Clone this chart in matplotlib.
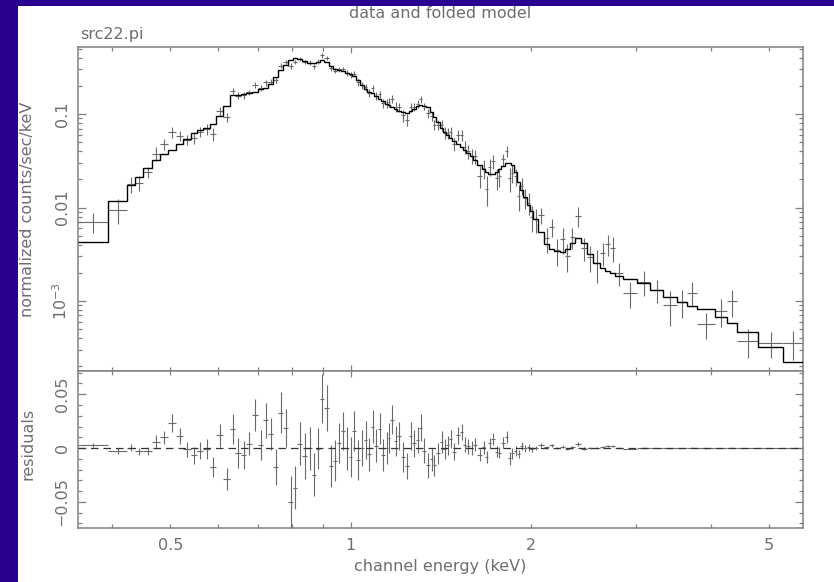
import numpy as np
import matplotlib
matplotlib.use("Agg")
import matplotlib.pyplot as plt
from matplotlib.patches import Rectangle
from matplotlib.ticker import (FixedLocator, NullFormatter, LogLocator,
                               MultipleLocator, FuncFormatter)

# ---------------- data ----------------
# channel (bin) edges in keV
edges = [0.3508, 0.3937, 0.4236, 0.4368, 0.4505, 0.4663, 0.4809, 0.4959, 0.5114, 0.5253,
         0.5418, 0.5544, 0.5673, 0.5828, 0.5964, 0.6127, 0.6294, 0.6416, 0.6565, 0.6693,
         0.6849, 0.7009, 0.7145, 0.7283, 0.7425, 0.7569, 0.7715, 0.7865, 0.8018, 0.8142,
         0.8300, 0.8461, 0.8625, 0.8759, 0.8895, 0.9033, 0.9208, 0.9350, 0.9495, 0.9641,
         0.9791, 0.9943, 1.0058, 1.0214, 1.0372, 1.0533, 1.0655, 1.0819, 1.0946, 1.1115,
         1.1243, 1.1417, 1.1551, 1.1640, 1.1819, 1.1956, 1.2142, 1.2330, 1.2521, 1.2666,
         1.2862, 1.3011, 1.3162, 1.3366, 1.3573, 1.3730, 1.3889, 1.4105, 1.4268, 1.4434,
         1.4601, 1.4771, 1.5000, 1.5232, 1.5409, 1.5587, 1.5830, 1.6014, 1.6262, 1.6577,
         1.6769, 1.6963, 1.7160, 1.7426, 1.7627, 1.7831, 1.8108, 1.8318, 1.8530, 1.8745,
         1.8963, 1.9183, 1.9405, 1.9706, 1.9935, 2.0166, 2.0557, 2.1037, 2.1445, 2.1861,
         2.2370, 2.2804, 2.3246, 2.3697, 2.4250, 2.4815, 2.5400, 2.6093, 2.6598, 2.7114,
         2.7641, 2.8505, 3.0079, 3.1623, 3.3243, 3.5085, 3.6460, 3.7888, 4.0602, 4.2517,
         4.4182, 4.7894, 5.2728, 5.6929]

# folded model, counts/sec/keV
model = [0.00428, 0.01182, 0.01740, 0.02120, 0.02645, 0.03221, 0.03735, 0.04121, 0.04776, 0.05402,
         0.06262, 0.06744, 0.07085, 0.07816, 0.09519, 0.1218, 0.1597, 0.1617, 0.1657, 0.1677,
         0.1719, 0.1851, 0.1920, 0.2094, 0.2487, 0.2955, 0.3384, 0.3781, 0.3972, 0.3875,
         0.3688, 0.3554, 0.3511, 0.3645, 0.3781, 0.3598, 0.3262, 0.3029, 0.2955, 0.2883,
         0.2779, 0.2711, 0.2549, 0.2310, 0.2043, 0.1851, 0.1740, 0.1677, 0.1558, 0.1447,
         0.1377, 0.1295, 0.1248, 0.1188, 0.1131, 0.1077, 0.1050, 0.1037, 0.1077, 0.1145,
         0.1218, 0.1248, 0.1233, 0.1188, 0.1050, 0.09288, 0.08212, 0.07085, 0.06420, 0.05962,
         0.05537, 0.05142, 0.04776, 0.04436, 0.04121, 0.03827, 0.03554, 0.03221, 0.02848, 0.02581,
         0.02397, 0.02310, 0.02282, 0.02397, 0.02581, 0.02779, 0.02991, 0.03029, 0.02848, 0.02397,
         0.01874, 0.01539, 0.01295, 0.01063, 0.009174, 0.007534, 0.005470, 0.004071, 0.003598, 0.003425,
         0.003342, 0.003598, 0.004172, 0.004718, 0.004172, 0.003183, 0.002549, 0.002254, 0.002094, 0.001993,
         0.001851, 0.001719, 0.001558, 0.001311, 0.001104, 0.0009757, 0.0008843, 0.0008212, 0.0006744, 0.0005816,
         0.0004661, 0.0003221, 0.0002226]

# measured rate, counts/sec/keV
data = [0.00708, 0.00942, 0.01770, 0.01820, 0.02395, 0.03781, 0.04725, 0.06421, 0.05876, 0.05302,
        0.05582, 0.06494, 0.06965, 0.06086, 0.10689, 0.0928, 0.1773, 0.1574, 0.1592, 0.1717,
        0.2029, 0.1881, 0.2176, 0.2227, 0.2307, 0.3285, 0.3569, 0.3281, 0.3602, 0.3915,
        0.3614, 0.3554, 0.3261, 0.3639, 0.4241, 0.3968, 0.3095, 0.2912, 0.3005, 0.3043,
        0.2779, 0.2625, 0.2709, 0.2200, 0.2043, 0.1925, 0.1684, 0.1877, 0.1578, 0.1627,
        0.1312, 0.1295, 0.1338, 0.1453, 0.1199, 0.1191, 0.0967, 0.0870, 0.1187, 0.1188,
        0.1292, 0.1438, 0.1208, 0.1028, 0.0945, 0.07688, 0.07712, 0.07645, 0.06300, 0.06212,
        0.06397, 0.04802, 0.05946, 0.05936, 0.04421, 0.03977, 0.03554, 0.03521, 0.02198, 0.02641,
        0.01597, 0.02740, 0.03112, 0.02057, 0.02151, 0.03279, 0.04041, 0.02069, 0.02348, 0.02147,
        0.01324, 0.01719, 0.01265, 0.01123, 0.007974, 0.007534, 0.00827, 0.004671, 0.00619, 0.00351,
        0.00460, 0.00303, 0.00484, 0.00811, 0.00369, 0.00296, 0.00255, 0.00326, 0.00407, 0.00369,
        0.00199, 0.00122, 0.00160, 0.00131, 0.000906, 0.000976, 0.00122, 0.000568, 0.000782, 0.00100,
        0.000374, 0.000356, 0.000356]

# 1-sigma errors, counts/sec/keV
errors = [0.0017, 0.0028, 0.0035, 0.0033, 0.0035, 0.0062, 0.0062, 0.0085, 0.0077, 0.0069,
          0.0077, 0.0077, 0.0093, 0.0093, 0.0108, 0.0100, 0.0139, 0.0139, 0.0131, 0.0108,
          0.0147, 0.0139, 0.0162, 0.0147, 0.0167, 0.0190, 0.0177, 0.0240, 0.0200, 0.0200,
          0.0216, 0.0200, 0.0200, 0.0193, 0.0224, 0.0216, 0.0193, 0.0193, 0.0185, 0.0177,
          0.0200, 0.0185, 0.0185, 0.0185, 0.0170, 0.0177, 0.0154, 0.0154, 0.0154, 0.0147,
          0.0147, 0.0147, 0.0139, 0.0139, 0.0139, 0.0131, 0.0139, 0.0123, 0.0131, 0.0123,
          0.0123, 0.0123, 0.0116, 0.0116, 0.0108, 0.0100, 0.0100, 0.0100, 0.0093, 0.0086,
          0.0086, 0.0077, 0.0077, 0.0077, 0.0070, 0.0070, 0.0065, 0.0060, 0.0060, 0.0060,
          0.0055, 0.0055, 0.0055, 0.0050, 0.0050, 0.0050, 0.0055, 0.0060, 0.0050, 0.0045,
          0.0040, 0.0035, 0.0030, 0.0030, 0.0025, 0.0022, 0.0016, 0.0014, 0.0014, 0.00115,
          0.0014, 0.0010, 0.0012, 0.0019, 0.0010, 0.0009, 0.0010, 0.0009, 0.00106, 0.0011,
          0.00056, 0.00037, 0.00047, 0.00035, 0.00036, 0.00032, 0.00036, 0.00018, 0.00026, 0.00032,
          0.00013, 0.00011, 0.000125]

xticks_labelled = [0.5, 1, 2, 5]
xticks_minor = [0.4, 0.5, 0.6, 0.7, 0.8, 0.9, 2, 3, 4, 5]
upper_yticks = [1e-3, 1e-2, 1e-1]
upper_ylabels = ['$10^{-3}$', '0.01', '0.1']
resid_yticks = [-0.05, 0.0, 0.05]
resid_ylabels = ['\u22120.05', '0', '0.05']

title = "data and folded model"
plot_name = "src22.pi"

# ---------------- derived ----------------
edges_a = np.array(edges)
e_lo, e_hi = edges_a[:-1], edges_a[1:]
e_mid = 0.5 * (e_lo + e_hi)
xerr = [e_mid - e_lo, e_hi - e_mid]
data_a = np.array(data)
model_a = np.array(model)
err_a = np.array(errors)
resid = data_a - model_a

# ---------------- style ----------------
BG = '#2a008f'
GREY = '#6e6e6e'
FRAME = '#808080'
FS = 11.5
W, H = 834, 582

fig = plt.figure(figsize=(W / 100, H / 100), dpi=100, facecolor=BG)
fig.patches.append(Rectangle((18 / W, 0), 1 - 18 / W, 1 - 6 / H,
                             transform=fig.transFigure, facecolor='white',
                             edgecolor='none', zorder=-5))

L, R = 78, 803
T1, B1, B2 = 46.7, 371, 528
ax1 = fig.add_axes([L / W, 1 - B1 / H, (R - L) / W, (B1 - T1) / H])
ax2 = fig.add_axes([L / W, 1 - B2 / H, (R - L) / W, (B2 - B1) / H])

xlim = (edges[0], edges[-1])
for ax in (ax1, ax2):
    ax.set_xscale('log')
    ax.set_xlim(*xlim)
    ax.xaxis.set_major_locator(FixedLocator([1.0]))
    ax.xaxis.set_minor_locator(FixedLocator(xticks_minor))
    for s in ax.spines.values():
        s.set_color(FRAME)
        s.set_linewidth(1.1)
    ax.tick_params(which='both', direction='in', top=True, right=True,
                   color=FRAME, labelcolor=GREY, labelsize=FS, width=0.9)
    ax.tick_params(axis='x', which='major', length=4.5, pad=7)
    ax.tick_params(axis='x', which='minor', length=3.0, pad=7)
    ax.tick_params(axis='y', which='major', length=5.8, pad=6)
    ax.tick_params(axis='y', which='minor', length=2.9)

# upper panel
ax1.set_yscale('log')
ax1.set_ylim(1.783e-4, 0.525)
ax1.set_yticks(upper_yticks, upper_ylabels, rotation=90, va='center',
               fontsize=FS, color=GREY)
ax1.yaxis.set_minor_locator(LogLocator(base=10, subs=np.arange(2, 10), numticks=30))
ax1.yaxis.set_minor_formatter(NullFormatter())
ax1.xaxis.set_major_formatter(NullFormatter())
ax1.xaxis.set_minor_formatter(NullFormatter())

ax1.errorbar(e_mid, data_a, xerr=xerr, yerr=err_a, fmt='none',
             ecolor='#6a6a6a', elinewidth=0.8, capsize=0, zorder=2)
ax1.stairs(model_a, edges_a, baseline=None, color='black', linewidth=1.0, zorder=3)

# residual panel
ax2.set_ylim(-0.0743, 0.0716)
ax2.set_yticks(resid_yticks, resid_ylabels, rotation=90, va='center',
               fontsize=FS, color=GREY)
ax2.yaxis.set_minor_locator(MultipleLocator(0.01))
ax2.xaxis.set_major_formatter(FuncFormatter(lambda v, p: '1'))
lab = {0.5: '0.5', 2.0: '2', 5.0: '5'}
ax2.xaxis.set_minor_formatter(FuncFormatter(lambda v, p: lab.get(round(v, 3), '')))

ax2.errorbar(e_mid, resid, xerr=xerr, yerr=err_a, fmt='none',
             ecolor='#6a6a6a', elinewidth=0.8, capsize=0, zorder=2)
ax2.axhline(0.0, color='#333333', linewidth=0.9, linestyle=(0, (6, 4)), zorder=3)

# labels
ax1.set_ylabel('normalized counts/sec/keV', fontsize=FS, color=GREY, va='center')
ax1.yaxis.set_label_coords((28 - L) / (R - L), 0.5)
ax2.set_ylabel('residuals', fontsize=FS, color=GREY, va='center')
ax2.yaxis.set_label_coords((28 - L) / (R - L), (B2 - 444) / (B2 - B1))
ax2.set_xlabel('channel energy (keV)', fontsize=FS, color=GREY)
ax2.xaxis.set_label_coords(0.5, -(567 - B2) / (B2 - B1))
ax2.xaxis.label.set_va('center')

fig.text((L + R) / 2 / W, 1 - 13 / H, title, ha='center', va='center',
         fontsize=FS, color=GREY)
fig.text(80 / W, 1 - 34 / H, plot_name, ha='left', va='center',
         fontsize=FS, color=GREY)

fig.savefig('out.png', dpi=100, facecolor=BG)
